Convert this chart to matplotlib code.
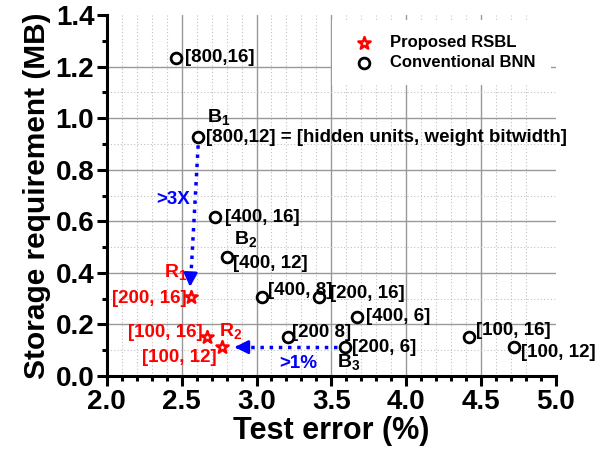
import numpy as np
import matplotlib
matplotlib.use('Agg')
import matplotlib.pyplot as plt

plt.rcParams['font.family'] = ['Liberation Sans', 'DejaVu Sans']
plt.rcParams['font.weight'] = 'bold'
plt.rcParams['mathtext.fontset'] = 'custom'
plt.rcParams['mathtext.rm'] = 'Liberation Sans:bold'
plt.rcParams['mathtext.bf'] = 'Liberation Sans:bold'

# Conventional BNN: [hidden units, weight bitwidth]
bnn_err = [2.46, 2.61, 2.72, 2.80, 3.04, 3.42, 3.67, 3.21, 3.59, 4.42, 4.72]
bnn_mb = [1.235, 0.927, 0.615, 0.462, 0.308, 0.308, 0.230, 0.152, 0.113, 0.152, 0.113]
bnn_lbl = ['[800,16]', '[800,12] = [hidden units, weight bitwidth]', '[400, 16]', '[400, 12]',
           '[400, 8]', '[200, 16]', '[400, 6]', '[200 8]', '[200, 6]', '[100, 16]', '[100, 12]']
# label offsets (x, y) in data units
bnn_off = [(0.06, 0), (0.05, 0), (0.07, 0), (0.04, -0.024), (0.035, 0.025), (0.07, 0.012),
           (0.06, 0), (0.03, 0.015), (0.05, -0.004), (0.05, 0.026), (0.05, -0.02)]

# Proposed RSBL
rsbl_err = [2.56, 2.67, 2.77]
rsbl_mb = [0.308, 0.152, 0.113]
rsbl_lbl = ['[200, 16]', '[100, 16]', '[100, 12]']
rsbl_off = [(-0.03, -0.006), (-0.03, 0.015), (-0.035, -0.04)]

fig = plt.figure(figsize=(5.97, 4.58), dpi=100)
ax = fig.add_axes([0.179, 0.179, 0.752, 0.788])

ax.set_xlim(2.0, 5.0); ax.set_ylim(0.0, 1.4)
ax.set_xticks(np.arange(2.0, 5.01, 0.5)); ax.set_xticks(np.arange(2.0, 5.01, 0.1), minor=True)
ax.set_yticks(np.arange(0.0, 1.41, 0.2)); ax.set_yticks(np.arange(0.0, 1.41, 0.1), minor=True)
ax.xaxis.set_major_formatter(matplotlib.ticker.FormatStrFormatter('%.1f'))
ax.yaxis.set_major_formatter(matplotlib.ticker.FormatStrFormatter('%.1f'))
ax.grid(True, which='major', color='#999999', lw=1.0, ls='-')
ax.grid(True, which='minor', color='#c0c0c0', lw=0.8, ls=(0, (1, 2)))
for tk in [ax.xaxis.get_major_ticks()[-1], ax.yaxis.get_major_ticks()[-1]]:
    tk.gridline.set_visible(False)
for tk in [ax.xaxis.get_minor_ticks()[-1], ax.yaxis.get_minor_ticks()[-1]]:
    tk.gridline.set_visible(False)
ax.set_axisbelow(True)
ax.spines['top'].set_visible(False); ax.spines['right'].set_visible(False)
for s in ['left', 'bottom']:
    ax.spines[s].set_linewidth(2.2)
ax.tick_params(which='major', direction='out', length=7, width=2.2, labelsize=20, pad=2)
ax.tick_params(which='minor', direction='out', length=3.5, width=2.2)

ax.set_xlabel('Test error (%)', fontsize=22, fontweight='bold', labelpad=1)
ax.set_ylabel('Storage requirement (MB)', fontsize=21.5, fontweight='bold', labelpad=3)

ax.scatter(rsbl_err, rsbl_mb, marker='*', s=85, facecolors='white', edgecolors='red',
           linewidths=1.8, zorder=5, label='Proposed RSBL')
ax.scatter(bnn_err, bnn_mb, marker='o', s=60, facecolors='white', edgecolors='black',
           linewidths=2, zorder=5, label='Conventional BNN')

for x, y, t, o in zip(bnn_err, bnn_mb, bnn_lbl, bnn_off):
    ax.text(x + o[0], y + o[1], t, fontsize=13.5, fontweight='bold', ha='left', va='center', zorder=6)
for x, y, t, o in zip(rsbl_err, rsbl_mb, rsbl_lbl, rsbl_off):
    ax.text(x + o[0], y + o[1], t, fontsize=13.5, fontweight='bold', color='red',
            ha='right', va='center', zorder=6)

ax.text(2.67, 1.0, r'B$_1$', fontsize=14, ha='left', va='center')
ax.text(2.85, 0.527, r'B$_2$', fontsize=14, ha='left', va='center')
ax.text(3.54, 0.05, r'B$_3$', fontsize=14, ha='left', va='center')
ax.text(2.38, 0.40, r'R$_1$', fontsize=14, color='red', ha='left', va='center')
ax.text(2.75, 0.17, r'R$_2$', fontsize=14, color='red', ha='left', va='center')

# arrows
ax.plot([2.61, 2.56], [0.895, 0.37], ls=':', color='blue', lw=2.5)
ax.annotate('', xy=(2.555, 0.335), xytext=(2.558, 0.375),
            arrowprops=dict(arrowstyle='-|>', color='blue', lw=2, mutation_scale=20))
ax.plot([3.54, 2.88], [0.112, 0.112], ls=':', color='blue', lw=2.5)
ax.annotate('', xy=(2.835, 0.112), xytext=(2.9, 0.112),
            arrowprops=dict(arrowstyle='-|>', color='blue', lw=2, mutation_scale=20))
ax.text(2.44, 0.686, '>3X', fontsize=13.5, color='blue', ha='center', va='center')
ax.text(3.28, 0.047, '>1%', fontsize=13.5, color='blue', ha='center', va='center')

leg = ax.legend(loc='upper right', fontsize=12, frameon=True, fancybox=False, framealpha=1,
                edgecolor='none', borderaxespad=0.3, handletextpad=0.6, borderpad=0.9,
                labelspacing=0.3, scatterpoints=1)
leg.set_zorder(7)

fig.savefig('out.png', dpi=100)
